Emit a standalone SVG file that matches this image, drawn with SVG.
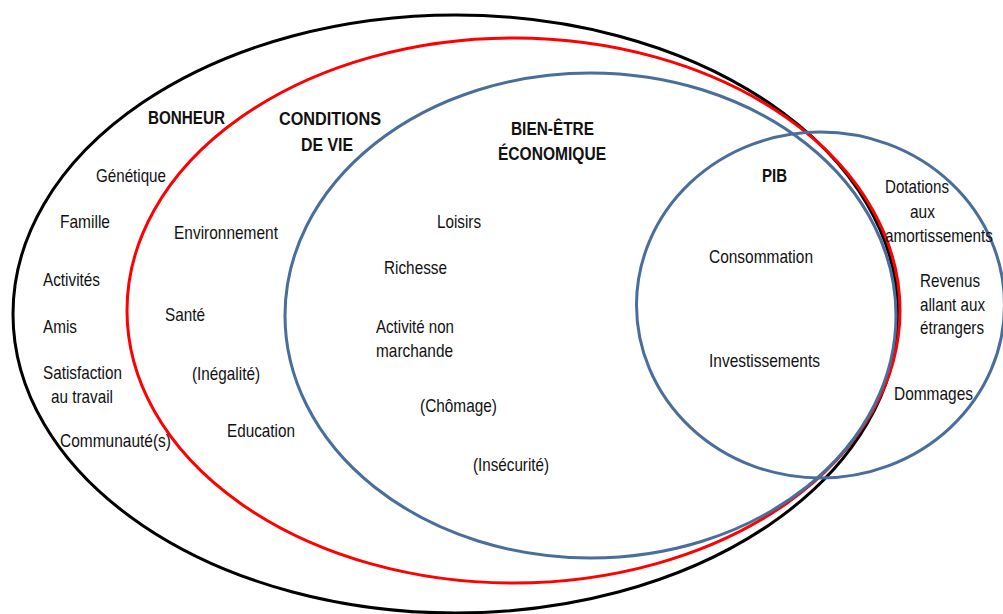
<svg xmlns="http://www.w3.org/2000/svg" width="1003" height="614" viewBox="0 0 1003 614">
<style>
.ring{fill:none;stroke-width:3}
text{font-family:"Liberation Sans","Arial",sans-serif;font-size:19px;fill:#111}
.b{font-weight:bold}
</style>
<rect width="1003" height="614" fill="#fff"/>
<g id="connectors"></g>
<g id="bonheur">
<ellipse class="ring" cx="455.5" cy="314" rx="442.5" ry="299" stroke="#000"/>
</g>
<g id="conditions">
<ellipse class="ring" cx="513.5" cy="310.5" rx="386.5" ry="272.5" stroke="#ff0000"/>
</g>
<g id="bienetre">
<ellipse class="ring" cx="590.5" cy="315.5" rx="305.5" ry="242.5" stroke="#4a6e9b"/>
</g>
<g id="pib">
<ellipse class="ring" cx="820.5" cy="305" rx="184" ry="173" stroke="#4a6e9b"/>
</g>
<g id="labels">
<text class="b" x="148" y="124" textLength="77" lengthAdjust="spacingAndGlyphs">BONHEUR</text>
<text class="b" x="279" y="125" textLength="102" lengthAdjust="spacingAndGlyphs">CONDITIONS</text>
<text class="b" x="301" y="151" textLength="52" lengthAdjust="spacingAndGlyphs">DE VIE</text>
<text class="b" x="511" y="135" textLength="83" lengthAdjust="spacingAndGlyphs">BIEN-ÊTRE</text>
<text class="b" x="498" y="160" textLength="108" lengthAdjust="spacingAndGlyphs">ÉCONOMIQUE</text>
<text class="b" x="762" y="182" textLength="25" lengthAdjust="spacingAndGlyphs">PIB</text>
<text x="96" y="182" textLength="70" lengthAdjust="spacingAndGlyphs">Génétique</text>
<text x="60" y="228" textLength="50" lengthAdjust="spacingAndGlyphs">Famille</text>
<text x="43" y="286" textLength="57" lengthAdjust="spacingAndGlyphs">Activités</text>
<text x="43" y="333" textLength="34" lengthAdjust="spacingAndGlyphs">Amis</text>
<text x="43" y="379" textLength="79" lengthAdjust="spacingAndGlyphs">Satisfaction</text>
<text x="51" y="403" textLength="62" lengthAdjust="spacingAndGlyphs">au travail</text>
<text x="60" y="447" textLength="111" lengthAdjust="spacingAndGlyphs">Communauté(s)</text>
<text x="174" y="239" textLength="104" lengthAdjust="spacingAndGlyphs">Environnement</text>
<text x="165" y="321" textLength="40" lengthAdjust="spacingAndGlyphs">Santé</text>
<text x="192" y="380" textLength="68" lengthAdjust="spacingAndGlyphs">(Inégalité)</text>
<text x="227" y="437" textLength="68" lengthAdjust="spacingAndGlyphs">Education</text>
<text x="437" y="228" textLength="44" lengthAdjust="spacingAndGlyphs">Loisirs</text>
<text x="384" y="274" textLength="63" lengthAdjust="spacingAndGlyphs">Richesse</text>
<text x="376" y="333" textLength="78" lengthAdjust="spacingAndGlyphs">Activité non</text>
<text x="376" y="357" textLength="77" lengthAdjust="spacingAndGlyphs">marchande</text>
<text x="420" y="412" textLength="77" lengthAdjust="spacingAndGlyphs">(Chômage)</text>
<text x="473" y="471" textLength="76" lengthAdjust="spacingAndGlyphs">(Insécurité)</text>
<text x="709" y="263" textLength="104" lengthAdjust="spacingAndGlyphs">Consommation</text>
<text x="709" y="367" textLength="111" lengthAdjust="spacingAndGlyphs">Investissements</text>
<text x="885" y="193" textLength="64" lengthAdjust="spacingAndGlyphs">Dotations</text>
<text x="910" y="218" textLength="25" lengthAdjust="spacingAndGlyphs">aux</text>
<text x="885" y="242" textLength="108" lengthAdjust="spacingAndGlyphs">amortissements</text>
<text x="920" y="287" textLength="60" lengthAdjust="spacingAndGlyphs">Revenus</text>
<text x="920" y="311" textLength="65" lengthAdjust="spacingAndGlyphs">allant aux</text>
<text x="920" y="334" textLength="64" lengthAdjust="spacingAndGlyphs">étrangers</text>
<text x="894" y="400" textLength="79" lengthAdjust="spacingAndGlyphs">Dommages</text>
</g>
</svg>
